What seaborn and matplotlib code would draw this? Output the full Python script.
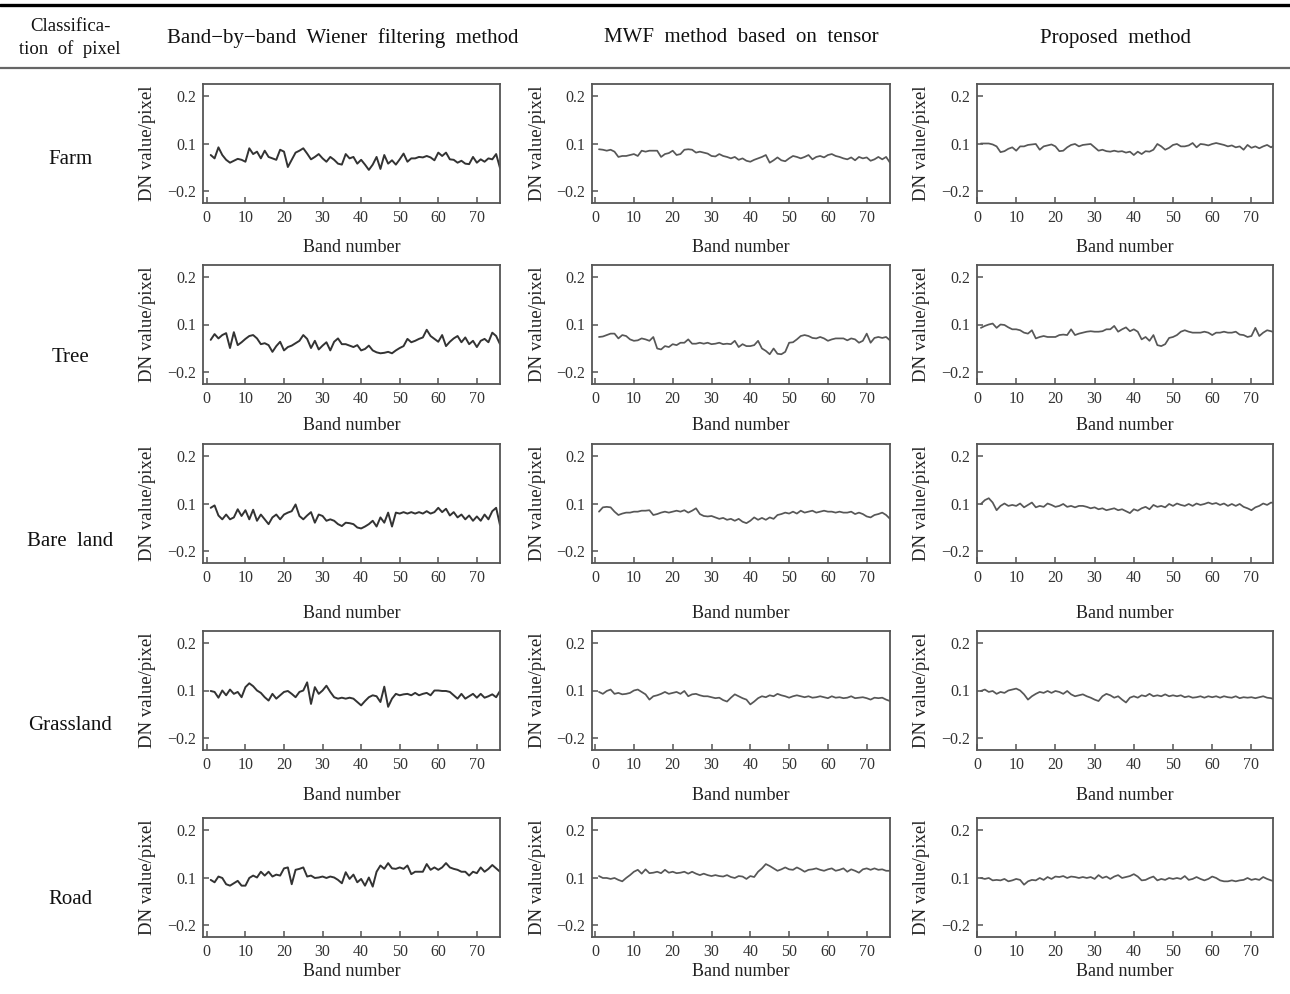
import numpy as np
import pandas as pd
import matplotlib
matplotlib.use("Agg")
import matplotlib.pyplot as plt
from matplotlib.lines import Line2D
import seaborn as sns

# ---------------------------------------------------------------- data
pixel_classes = ["Farm", "Tree", "Bare  land", "Grassland", "Road"]
methods = ["Band\u2212by\u2212band  Wiener  filtering  method",
           "MWF  method  based  on  tensor",
           "Proposed  method"]
first_column_title = "Classifica-\ntion  of  pixel"
x_ticks = [0, 10, 20, 30, 40, 50, 60, 70]
y_ticks = [0.2, 0.1, -0.2]
y_tick_labels = ["0.2", "0.1", "\u22120.2"]
x_label = "Band number"
y_label = "DN value/pixel"

farm_bbw = [0.028, 0.007, 0.076, 0.028, -0.002, -0.020, -0.008, 0.004, -0.002, -0.014,
            0.070, 0.034, 0.049, 0.007, 0.055, 0.016, 0.007, -0.002, 0.061, 0.049,
            -0.047, -0.002, 0.043, 0.055, 0.070, 0.037, 0.001, 0.016, 0.034, 0.007,
            -0.014, 0.016, -0.002, -0.026, -0.032, 0.034, 0.007, 0.016, -0.026, -0.002,
            -0.032, -0.065, -0.032, 0.016, -0.059, 0.028, -0.026, -0.005, -0.032, 0.001,
            0.037, -0.014, 0.007, 0.007, 0.016, 0.013, 0.022, 0.013, -0.005, 0.043,
            0.022, 0.043, 0.001, -0.002, -0.020, -0.008, -0.026, -0.029, 0.016, -0.020,
            0.001, -0.014, 0.007, 0.001, 0.034, -0.053]
farm_mwf = [0.064, 0.061, 0.055, 0.061, 0.049, 0.016, 0.022, 0.022, 0.028, 0.034,
            0.022, 0.055, 0.049, 0.055, 0.055, 0.055, 0.016, 0.034, 0.040, 0.055,
            0.028, 0.034, 0.061, 0.064, 0.061, 0.043, 0.049, 0.043, 0.037, 0.022,
            0.019, 0.034, 0.022, 0.016, 0.007, 0.016, -0.002, 0.007, -0.008, -0.014,
            -0.002, 0.007, 0.016, 0.028, -0.020, -0.005, 0.013, -0.005, -0.011, 0.007,
            0.022, 0.016, 0.007, 0.016, 0.028, 0.001, 0.016, 0.022, 0.013, 0.028,
            0.034, 0.022, 0.016, 0.007, 0.001, 0.013, -0.005, 0.016, 0.007, 0.013,
            -0.008, 0.001, 0.016, 0.001, 0.016, -0.020]
farm_prop = [0.100, 0.100, 0.100, 0.094, 0.082, 0.046, 0.052, 0.067, 0.076, 0.055,
             0.082, 0.082, 0.091, 0.094, 0.097, 0.061, 0.082, 0.088, 0.094, 0.082,
             0.052, 0.055, 0.076, 0.091, 0.097, 0.082, 0.091, 0.094, 0.097, 0.076,
             0.055, 0.061, 0.052, 0.049, 0.055, 0.049, 0.052, 0.043, 0.049, 0.028,
             0.049, 0.034, 0.052, 0.049, 0.061, 0.097, 0.082, 0.061, 0.073, 0.091,
             0.097, 0.082, 0.082, 0.088, 0.101, 0.076, 0.097, 0.094, 0.088, 0.097,
             0.101, 0.097, 0.091, 0.082, 0.088, 0.076, 0.082, 0.061, 0.091, 0.073,
             0.082, 0.070, 0.082, 0.091, 0.076, 0.091]

tree_bbw = [0.004, 0.040, 0.013, 0.034, 0.046, -0.047, 0.052, -0.029, -0.011, 0.010,
            0.028, 0.034, 0.013, -0.023, -0.017, -0.029, -0.071, -0.035, -0.008, -0.062,
            -0.041, -0.032, -0.017, -0.002, 0.034, 0.010, -0.047, -0.002, -0.056, -0.032,
            -0.011, -0.062, -0.008, 0.013, -0.023, -0.023, -0.032, -0.041, -0.029, -0.062,
            -0.053, -0.032, -0.062, -0.074, -0.080, -0.077, -0.071, -0.080, -0.062, -0.047,
            -0.035, 0.010, -0.011, -0.002, 0.010, 0.019, 0.067, 0.028, 0.010, -0.008,
            0.034, -0.035, -0.008, 0.013, 0.028, -0.011, 0.019, -0.023, -0.002, -0.041,
            -0.002, 0.010, -0.011, 0.049, 0.028, -0.023]
tree_mwf = [0.022, 0.025, 0.034, 0.043, 0.043, 0.013, 0.034, 0.028, 0.007, -0.002,
            0.001, 0.013, 0.007, -0.002, 0.022, -0.050, -0.056, -0.035, -0.041, -0.023,
            -0.029, -0.014, -0.014, 0.007, -0.020, -0.020, -0.014, -0.020, -0.014, -0.023,
            -0.020, -0.014, -0.023, -0.020, -0.023, -0.002, -0.041, -0.023, -0.035, -0.035,
            -0.029, -0.002, -0.050, -0.065, -0.086, -0.050, -0.083, -0.086, -0.071, -0.014,
            -0.011, 0.007, 0.028, 0.034, 0.028, 0.016, 0.013, 0.022, 0.013, -0.002,
            0.007, 0.013, 0.013, 0.013, 0.001, 0.013, 0.007, -0.014, -0.002, 0.043,
            -0.014, 0.016, 0.022, 0.016, 0.022, 0.001]
tree_prop = [0.079, 0.091, 0.100, 0.102, 0.079, 0.100, 0.097, 0.082, 0.070, 0.070,
             0.064, 0.049, 0.043, 0.064, 0.013, 0.022, 0.028, 0.022, 0.022, 0.022,
             0.034, 0.037, 0.034, 0.070, 0.034, 0.043, 0.049, 0.055, 0.058, 0.055,
             0.055, 0.058, 0.070, 0.070, 0.091, 0.055, 0.070, 0.082, 0.058, 0.070,
             0.055, 0.007, 0.022, -0.002, 0.034, -0.029, -0.035, -0.023, 0.016, 0.022,
             0.034, 0.055, 0.064, 0.055, 0.049, 0.049, 0.049, 0.055, 0.049, 0.034,
             0.049, 0.049, 0.055, 0.049, 0.049, 0.055, 0.037, 0.034, 0.022, 0.028,
             0.079, 0.028, 0.049, 0.064, 0.058, 0.049]

bare_bbw = [0.073, 0.088, 0.025, 0.001, 0.031, 0.001, 0.013, 0.064, 0.022, 0.058,
            0.001, 0.061, -0.008, 0.031, 0.001, -0.029, 0.013, 0.031, 0.001, 0.031,
            0.043, 0.052, 0.094, 0.022, 0.001, 0.025, 0.046, -0.020, 0.031, 0.022,
            -0.008, 0.001, -0.008, -0.029, -0.041, -0.020, -0.023, -0.029, -0.050, -0.056,
            -0.044, -0.029, -0.008, -0.044, 0.013, -0.020, 0.043, -0.044, 0.043, 0.037,
            0.046, 0.037, 0.046, 0.037, 0.046, 0.037, 0.052, 0.037, 0.046, 0.073,
            0.046, 0.067, 0.025, 0.046, 0.013, 0.031, 0.001, 0.025, -0.008, 0.019,
            -0.008, 0.031, 0.001, 0.052, 0.073, -0.035]
bare_mwf = [0.049, 0.076, 0.079, 0.076, 0.049, 0.028, 0.037, 0.043, 0.043, 0.049,
            0.049, 0.055, 0.055, 0.058, 0.028, 0.034, 0.043, 0.049, 0.043, 0.049,
            0.055, 0.049, 0.058, 0.043, 0.055, 0.070, 0.034, 0.022, 0.019, 0.022,
            0.013, 0.004, 0.010, -0.002, 0.004, -0.008, 0.004, -0.014, -0.023, -0.008,
            0.013, -0.002, 0.010, -0.002, 0.013, 0.004, 0.028, 0.034, 0.043, 0.037,
            0.049, 0.037, 0.055, 0.043, 0.049, 0.055, 0.043, 0.049, 0.055, 0.049,
            0.049, 0.043, 0.049, 0.043, 0.043, 0.049, 0.034, 0.043, 0.034, 0.019,
            0.013, 0.028, 0.034, 0.043, 0.028, 0.004]
bare_prop = [0.097, 0.107, 0.111, 0.102, 0.058, 0.085, 0.100, 0.085, 0.091, 0.085,
             0.100, 0.076, 0.091, 0.102, 0.076, 0.085, 0.079, 0.100, 0.091, 0.079,
             0.085, 0.097, 0.079, 0.085, 0.076, 0.085, 0.085, 0.079, 0.070, 0.076,
             0.064, 0.070, 0.058, 0.064, 0.070, 0.058, 0.064, 0.052, 0.040, 0.064,
             0.055, 0.070, 0.079, 0.064, 0.091, 0.079, 0.085, 0.076, 0.097, 0.085,
             0.100, 0.091, 0.085, 0.097, 0.085, 0.100, 0.091, 0.097, 0.102, 0.097,
             0.101, 0.091, 0.100, 0.085, 0.097, 0.085, 0.097, 0.079, 0.070, 0.058,
             0.076, 0.085, 0.100, 0.091, 0.102, 0.100]

grass_bbw = [0.097, 0.091, 0.055, 0.100, 0.070, 0.102, 0.079, 0.091, 0.058, 0.107,
             0.115, 0.109, 0.100, 0.085, 0.058, 0.037, 0.079, 0.049, 0.070, 0.091,
             0.097, 0.079, 0.058, 0.091, 0.100, 0.117, 0.016, 0.107, 0.079, 0.100,
             0.110, 0.091, 0.058, 0.049, 0.055, 0.049, 0.055, 0.049, 0.028, 0.007,
             0.034, 0.058, 0.070, 0.064, 0.028, 0.108, -0.002, 0.049, 0.079, 0.070,
             0.076, 0.079, 0.070, 0.085, 0.070, 0.079, 0.085, 0.070, 0.100, 0.100,
             0.097, 0.097, 0.091, 0.070, 0.049, 0.079, 0.049, 0.064, 0.079, 0.055,
             0.079, 0.055, 0.064, 0.076, 0.058, 0.097]
grass_mwf = [0.091, 0.079, 0.097, 0.102, 0.079, 0.085, 0.076, 0.079, 0.085, 0.100,
             0.102, 0.091, 0.076, 0.043, 0.064, 0.070, 0.079, 0.091, 0.079, 0.085,
             0.091, 0.079, 0.097, 0.064, 0.076, 0.079, 0.070, 0.064, 0.064, 0.058,
             0.052, 0.055, 0.040, 0.031, 0.055, 0.076, 0.064, 0.052, 0.043, 0.013,
             0.031, 0.052, 0.064, 0.058, 0.070, 0.064, 0.079, 0.070, 0.064, 0.055,
             0.064, 0.070, 0.064, 0.058, 0.064, 0.055, 0.058, 0.064, 0.058, 0.052,
             0.064, 0.055, 0.058, 0.052, 0.055, 0.064, 0.052, 0.055, 0.058, 0.052,
             0.043, 0.055, 0.052, 0.055, 0.043, 0.034]
grass_prop = [0.097, 0.102, 0.091, 0.097, 0.079, 0.091, 0.085, 0.100, 0.102, 0.104,
              0.100, 0.076, 0.043, 0.064, 0.079, 0.091, 0.085, 0.097, 0.085, 0.097,
              0.091, 0.079, 0.097, 0.076, 0.064, 0.070, 0.076, 0.064, 0.055, 0.043,
              0.034, 0.064, 0.079, 0.070, 0.055, 0.064, 0.043, 0.025, 0.055, 0.064,
              0.055, 0.070, 0.064, 0.079, 0.064, 0.070, 0.064, 0.076, 0.064, 0.070,
              0.064, 0.070, 0.058, 0.064, 0.055, 0.058, 0.064, 0.055, 0.064, 0.058,
              0.064, 0.055, 0.064, 0.058, 0.055, 0.064, 0.052, 0.058, 0.055, 0.058,
              0.052, 0.058, 0.064, 0.055, 0.052, 0.043]

road_bbw = [0.085, 0.070, 0.102, 0.097, 0.058, 0.049, 0.064, 0.079, 0.049, 0.049,
            0.097, 0.104, 0.100, 0.112, 0.104, 0.112, 0.102, 0.106, 0.104, 0.119,
            0.121, 0.058, 0.116, 0.118, 0.121, 0.102, 0.104, 0.097, 0.100, 0.102,
            0.097, 0.102, 0.100, 0.085, 0.064, 0.111, 0.091, 0.106, 0.070, 0.091,
            0.049, 0.100, 0.043, 0.112, 0.125, 0.118, 0.130, 0.119, 0.118, 0.121,
            0.118, 0.125, 0.107, 0.112, 0.112, 0.112, 0.128, 0.116, 0.121, 0.116,
            0.121, 0.130, 0.121, 0.118, 0.116, 0.112, 0.112, 0.104, 0.112, 0.109,
            0.121, 0.112, 0.118, 0.126, 0.119, 0.112]
road_mwf = [0.103, 0.097, 0.097, 0.091, 0.097, 0.085, 0.076, 0.097, 0.105, 0.112,
            0.116, 0.108, 0.117, 0.109, 0.110, 0.112, 0.109, 0.116, 0.110, 0.112,
            0.109, 0.110, 0.112, 0.108, 0.112, 0.108, 0.105, 0.108, 0.105, 0.103,
            0.105, 0.103, 0.102, 0.105, 0.101, 0.097, 0.103, 0.102, 0.091, 0.103,
            0.101, 0.112, 0.119, 0.128, 0.124, 0.119, 0.114, 0.117, 0.121, 0.117,
            0.116, 0.121, 0.117, 0.112, 0.116, 0.117, 0.119, 0.116, 0.114, 0.117,
            0.119, 0.114, 0.116, 0.119, 0.112, 0.117, 0.114, 0.110, 0.117, 0.119,
            0.116, 0.119, 0.116, 0.117, 0.114, 0.114]
road_prop = [0.097, 0.091, 0.097, 0.082, 0.085, 0.082, 0.091, 0.076, 0.082, 0.091,
             0.085, 0.055, 0.076, 0.085, 0.082, 0.097, 0.085, 0.101, 0.091, 0.102,
             0.101, 0.103, 0.097, 0.102, 0.101, 0.097, 0.101, 0.097, 0.101, 0.091,
             0.105, 0.097, 0.102, 0.091, 0.102, 0.105, 0.097, 0.101, 0.103, 0.107,
             0.102, 0.082, 0.085, 0.097, 0.102, 0.082, 0.091, 0.085, 0.097, 0.091,
             0.097, 0.091, 0.103, 0.085, 0.091, 0.101, 0.091, 0.082, 0.091, 0.102,
             0.097, 0.082, 0.076, 0.076, 0.082, 0.076, 0.082, 0.085, 0.097, 0.085,
             0.091, 0.085, 0.101, 0.091, 0.082, 0.076]

series = [[farm_bbw, farm_mwf, farm_prop],
          [tree_bbw, tree_mwf, tree_prop],
          [bare_bbw, bare_mwf, bare_prop],
          [grass_bbw, grass_mwf, grass_prop],
          [road_bbw, road_mwf, road_prop]]


# the vertical axis is piecewise linear: -0.2 -> 0, 0.1 -> 1, 0.2 -> 2
def dn_forward(v):
    v = np.asarray(v, dtype=float)
    return np.where(v <= 0.1, (v + 0.2) / 0.3, 1.0 + (v - 0.1) / 0.1)


def dn_inverse(p):
    p = np.asarray(p, dtype=float)
    return np.where(p <= 1.0, -0.2 + 0.3 * p, 0.1 + 0.1 * (p - 1.0))


# ---------------------------------------------------------------- style
sns.set_theme(style="white")
plt.rcParams["font.family"] = ["Liberation Serif", "DejaVu Serif"]
plt.rcParams["axes.unicode_minus"] = True

W, H = 1290, 994
fig = plt.figure(figsize=(W / 100, H / 100), dpi=100)
fig.patch.set_facecolor("white")


def px_axes(left, top, right, bottom):
    return fig.add_axes([left / W, 1 - bottom / H, (right - left) / W, (bottom - top) / H])


col_px = [(203, 500), (592, 890), (977, 1273)]
row_px = [(84, 203), (265, 384), (444, 563), (631, 750), (818, 937)]
xlabel_gap = [44, 42, 50, 46, 35]
row_label_y = [160, 358, 542, 725, 900]
col_xlim = [(-1, 76), (-0.8, 76), (0, 75.5)]
line_style = [("#333333", 1.4), ("#575757", 1.25), ("#575757", 1.25)]

for i, (top, bottom) in enumerate(row_px):
    for j, (left, right) in enumerate(col_px):
        ax = px_axes(left, top, right, bottom)
        vals = series[i][j]
        df = pd.DataFrame({"band": np.arange(1, len(vals) + 1), "dn": vals})
        color, lw = line_style[j]
        sns.lineplot(data=df, x="band", y="dn", ax=ax, color=color, linewidth=lw)

        ax.set_yscale("function", functions=(dn_forward, dn_inverse))
        ax.set_ylim(-0.272, 0.224)
        ax.set_yticks(y_ticks)
        ax.set_yticklabels(y_tick_labels)
        ax.set_xlim(*col_xlim[j])
        ax.set_xticks(x_ticks)
        ax.set_xticklabels([str(t) for t in x_ticks])
        ax.minorticks_off()

        ax.tick_params(axis="both", which="major", direction="in", length=4.5, width=1.1,
                       color="#555555", labelcolor="#333333", labelsize=11.5,
                       bottom=True, left=True, top=False, right=False, pad=5)
        for s in ax.spines.values():
            s.set_visible(True)
            s.set_color("#555555")
            s.set_linewidth(1.3)

        ax.set_xlabel(x_label, fontsize=13, color="#222222")
        ax.xaxis.label.set_va("center")
        ax.xaxis.set_label_coords(0.5, -xlabel_gap[i] / (bottom - top))
        ax.set_ylabel(y_label, fontsize=13.5, color="#222222")
        ax.yaxis.label.set_va("center")
        ax.yaxis.set_label_coords(-55 / (right - left), 0.5)

# ---------------------------------------------------------------- table frame
fig.add_artist(Line2D([0, 1], [1 - 5 / H, 1 - 5 / H], transform=fig.transFigure,
                      color="black", linewidth=2.4))
fig.add_artist(Line2D([0, 1], [1 - 68 / H, 1 - 68 / H], transform=fig.transFigure,
                      color="#666666", linewidth=1.6))

fig.text(70 / W, 1 - 38 / H, first_column_title, ha="center", va="center",
         fontsize=13.5, linespacing=1.35, color="#111111")
for x_c, title in zip([343, 741, 1115], methods):
    fig.text(x_c / W, 1 - 38 / H, title, ha="center", va="center",
             fontsize=15, color="#111111")

for y_c, name in zip(row_label_y, pixel_classes):
    fig.text(70 / W, 1 - y_c / H, name, ha="center", va="center",
             fontsize=15, color="#111111")

fig.savefig("out.png", dpi=100, facecolor="white")
